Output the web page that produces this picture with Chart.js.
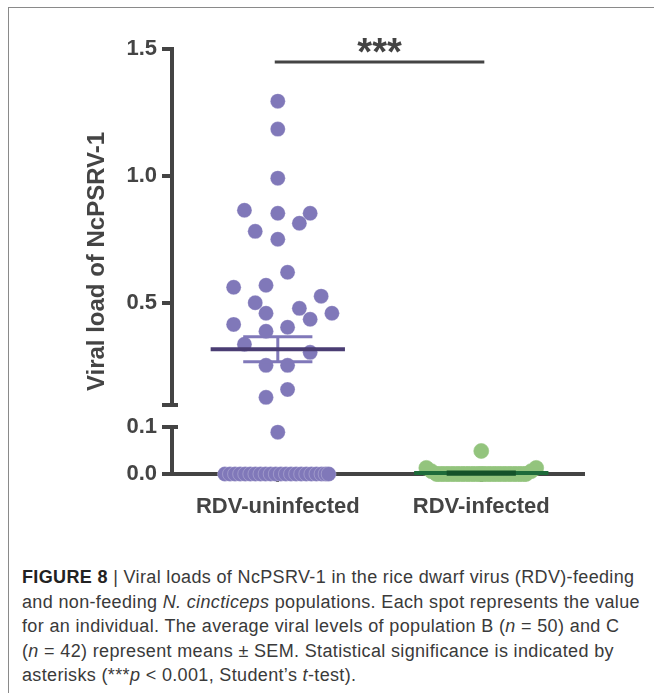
<!DOCTYPE html>
<html>
<head>
<meta charset="utf-8">
<script src="https://cdn.jsdelivr.net/npm/chart.js@4.4.1/dist/chart.umd.min.js"></script>
<style>
  html, body { margin: 0; padding: 0; background: #fff; }
  body { width: 654px; height: 693px; position: relative; overflow: hidden; }
  #frame { position: absolute; left: 8px; top: 7px; width: 700px; height: 700px;
           border-top: 1px solid #8a8a8a; border-left: 1px solid #8a8a8a; }
  #chart { position: absolute; left: 0; top: 0; }
  #caption { position: absolute; left: 22px; top: 565px; width: 640px; white-space: nowrap;
             font-family: "Liberation Sans", Arial, sans-serif; font-size: 18px; letter-spacing: 0.35px;
             line-height: 24.5px; color: #3a3a3a; }
  #caption b { color: #222; }
</style>
</head>
<body>
<div id="frame"></div>
<canvas id="chart" width="654" height="530"></canvas>
<div id="caption"><b>FIGURE 8</b> | Viral loads of NcPSRV-1 in the rice dwarf virus (RDV)-feeding<br>and non-feeding <i>N. cincticeps</i> populations. Each spot represents the value<br>for an individual. The average viral levels of population B (<i>n</i> = 50) and C<br>(<i>n</i> = 42) represent means ± SEM. Statistical significance is indicated by<br>asterisks (***<i>p</i> &lt; 0.001, Student’s <i>t</i>-test).</div>
<script>
// groups on the x axis
const groups = ['RDV-uninfected', 'RDV-infected'];

// RDV-uninfected (n = 50): values and horizontal spread inside the column
const uninfectedValues = [1.295, 1.185, 0.992, 0.866, 0.854, 0.854, 0.815, 0.783, 0.752, 0.622,
  0.571, 0.563, 0.528, 0.502, 0.480, 0.461, 0.461, 0.437, 0.417, 0.406,
  0.390, 0.339, 0.307, 0.256, 0.256, 0.161, 0.130, 0.089,
  0, 0, 0, 0, 0, 0, 0, 0, 0, 0, 0, 0, 0, 0, 0, 0, 0, 0, 0, 0, 0, 0];
const uninfectedOffsets = [0, 0, 0, -0.164, 0, 0.159, 0.106, -0.111, 0, 0.048,
  -0.058, -0.217, 0.213, -0.111, 0.106, -0.058, 0.266, 0.159, -0.217, 0.048,
  -0.058, -0.164, 0.159, -0.058, 0.048, 0.048, -0.058, 0,
  -0.26, -0.235, -0.21, -0.185, -0.16, -0.135, -0.11, -0.085, -0.06, -0.035, -0.01,
  0.015, 0.04, 0.065, 0.09, 0.115, 0.14, 0.165, 0.19, 0.215, 0.235, 0.25];

// RDV-infected (n = 42)
const infectedValues = [0.049, 0.013, 0.013, 0.006, 0.006,
  0, 0, 0, 0, 0, 0, 0, 0, 0, 0, 0, 0, 0, 0, 0, 0, 0, 0, 0,
  0, 0, 0, 0, 0, 0, 0, 0, 0, 0, 0, 0, 0, 0, 0, 0, 0, 0];
const infectedOffsets = [0, -0.27, 0.27, -0.245, 0.245,
  -0.22, -0.21, -0.195, -0.185, -0.17, -0.16, -0.145, -0.135, -0.12, -0.11, -0.095, -0.085,
  -0.07, -0.06, -0.045, -0.035, -0.02, -0.01, 0, 0.01, 0.02, 0.035, 0.045, 0.06, 0.07,
  0.085, 0.095, 0.11, 0.12, 0.135, 0.145, 0.16, 0.17, 0.185, 0.195, 0.21, 0.22];

// mean +/- SEM per group
const groupMeans = [0.319, 0.002];
const groupSems = [0.049, 0.0013];

// broken y axis
const breakValue = 0.1;
const yHighTicks = [0.1, 0.5, 1.0, 1.5];
const yLowTicks = [0.0, 0.1];

// significance bar
const sigLevel = 1.449;
const sigLabel = '***';

const axisColor = '#444';
const purple = '#8078b9';
const purpleDark = '#4a3d73';
const green = '#93c47d';
const greenDark = '#1e6b3a';
const greenSem = '#145229';

const meanHalf = 0.33;
const semHalf = 0.17;

function toPoints(values, offsets, center, upper) {
  return values
    .map((v, i) => ({ x: center + offsets[i], y: v }))
    .filter(p => upper ? p.y >= breakValue : p.y < breakValue);
}

function axisFor(v) { return v >= breakValue ? 'yHigh' : 'yLow'; }

function meanLine(i) {
  const c = i + 1, m = groupMeans[i];
  return [{ x: c - meanHalf, y: m }, { x: c + meanHalf, y: m }];
}

function semLines(i) {
  const c = i + 1, hi = groupMeans[i] + groupSems[i], lo = groupMeans[i] - groupSems[i];
  return [
    { x: c - semHalf, y: hi }, { x: c + semHalf, y: hi }, { x: c, y: null },
    { x: c, y: hi }, { x: c, y: lo }, { x: c, y: null },
    { x: c - semHalf, y: lo }, { x: c + semHalf, y: lo }
  ];
}

const pointStyle = (color, edge) => ({
  type: 'scatter', pointRadius: 7.5, pointHoverRadius: 7.5,
  backgroundColor: color, borderColor: edge, borderWidth: 0.6,
  clip: false, order: 3
});

const lineStyle = (color, width, order) => ({
  type: 'line', borderColor: color, borderWidth: width, pointRadius: 0,
  fill: false, spanGaps: false, clip: false, order: order
});

const datasets = [
  Object.assign({ data: toPoints(uninfectedValues, uninfectedOffsets, 1, true), yAxisID: 'yHigh' }, pointStyle(purple, 'rgba(255,255,255,0.4)')),
  Object.assign({ data: toPoints(uninfectedValues, uninfectedOffsets, 1, false), yAxisID: 'yLow' }, pointStyle(purple, 'rgba(255,255,255,0.4)')),
  Object.assign({ data: toPoints(infectedValues, infectedOffsets, 2, true), yAxisID: 'yHigh' }, pointStyle(green, green)),
  Object.assign({ data: toPoints(infectedValues, infectedOffsets, 2, false), yAxisID: 'yLow' }, pointStyle(green, green)),
  Object.assign({ data: semLines(0), yAxisID: axisFor(groupMeans[0]) }, lineStyle(purple, 3, 1)),
  Object.assign({ data: meanLine(0), yAxisID: axisFor(groupMeans[0]) }, lineStyle(purpleDark, 4, 0)),
  Object.assign({ data: meanLine(1), yAxisID: axisFor(groupMeans[1]) }, lineStyle(greenDark, 4, 1)),
  Object.assign({ data: semLines(1), yAxisID: axisFor(groupMeans[1]) }, lineStyle(greenSem, 4, 0)),
  Object.assign({ data: [{ x: 0.985, y: sigLevel }, { x: 2.015, y: sigLevel }], yAxisID: 'yHigh' }, lineStyle(axisColor, 3, 0))
];

const tickFont = { family: '"Liberation Sans", Arial, sans-serif', size: 22, weight: 'bold' };

const stackAxis = (ticks, weight, boxWeight) => ({
  type: 'linear', position: 'left', stack: 'y', stackWeight: weight, weight: boxWeight,
  min: ticks[0], max: ticks[ticks.length - 1],
  afterBuildTicks: s => { s.ticks = ticks.map(v => ({ value: v })); },
  afterFit: s => { s.width = 61; },
  border: { display: true, color: axisColor, width: 4 },
  grid: { display: true, drawOnChartArea: false, drawTicks: true, tickLength: 10, color: axisColor, lineWidth: 4 },
  ticks: {
    color: axisColor, font: tickFont, padding: 5, autoSkip: false,
    callback: v => (ticks === yHighTicks && v === breakValue) ? '' : v.toFixed(1)
  }
});

// short caps on the inner side of the axis break
const breakCaps = {
  id: 'breakCaps',
  afterDraw(chart) {
    const { ctx } = chart;
    const hi = chart.scales.yHigh, lo = chart.scales.yLow;
    const x = hi.right;
    ctx.save();
    ctx.strokeStyle = axisColor;
    ctx.lineWidth = 4;
    [hi.getPixelForValue(breakValue), lo.getPixelForValue(breakValue)].forEach(y => {
      ctx.beginPath();
      ctx.moveTo(x - 2, y);
      ctx.lineTo(x + 6, y);
      ctx.stroke();
    });
    ctx.restore();
  }
};

const sigText = {
  id: 'sigText',
  afterDatasetsDraw(chart) {
    const { ctx } = chart;
    const x = chart.scales.x.getPixelForValue(1.5);
    const y = chart.scales.yHigh.getPixelForValue(sigLevel);
    ctx.save();
    ctx.fillStyle = axisColor;
    ctx.font = 'bold 38px "Liberation Sans", Arial, sans-serif';
    ctx.textAlign = 'center';
    ctx.textBaseline = 'alphabetic';
    ctx.fillText(sigLabel, x, y + 3);
    ctx.restore();
  }
};

new Chart(document.getElementById('chart'), {
  type: 'scatter',
  data: { datasets },
  options: {
    responsive: false,
    animation: false,
    devicePixelRatio: 1,
    layout: { padding: { left: 83, top: 49, right: 71, bottom: 0 } },
    plugins: { legend: { display: false }, tooltip: { enabled: false } },
    scales: {
      x: {
        type: 'linear', min: 0.48, max: 2.5,
        afterBuildTicks: s => { s.ticks = groups.map((g, i) => ({ value: i + 1 })); },
        afterFit: s => { s.height = 56; },
        border: { display: true, color: axisColor, width: 4 },
        grid: { display: true, drawOnChartArea: false, drawTicks: true, tickLength: 8, color: axisColor, lineWidth: 3 },
        ticks: { color: axisColor, font: tickFont, padding: 12, maxRotation: 0, autoSkip: false, callback: (v, i) => groups[i] }
      },
      yTitle: {
        type: 'linear', position: 'left', weight: 10, min: 0, max: 1,
        afterFit: s => { s.width = 28; },
        border: { display: false }, grid: { display: false }, ticks: { display: false },
        title: { display: true, text: 'Viral load of NcPSRV-1', color: axisColor, padding: 0,
                 font: { family: '"Liberation Sans", Arial, sans-serif', size: 24, weight: 'bold' } }
      },
      yHigh: stackAxis(yHighTicks, 356, 3),
      yGap: {
        type: 'linear', position: 'left', stack: 'y', stackWeight: 22, weight: 2, min: 0, max: 1,
        afterFit: s => { s.width = 61; },
        border: { display: false }, grid: { display: false }, ticks: { display: false }
      },
      yLow: stackAxis(yLowTicks, 47, 1)
    }
  },
  plugins: [breakCaps, sigText]
});
</script>
</body>
</html>
